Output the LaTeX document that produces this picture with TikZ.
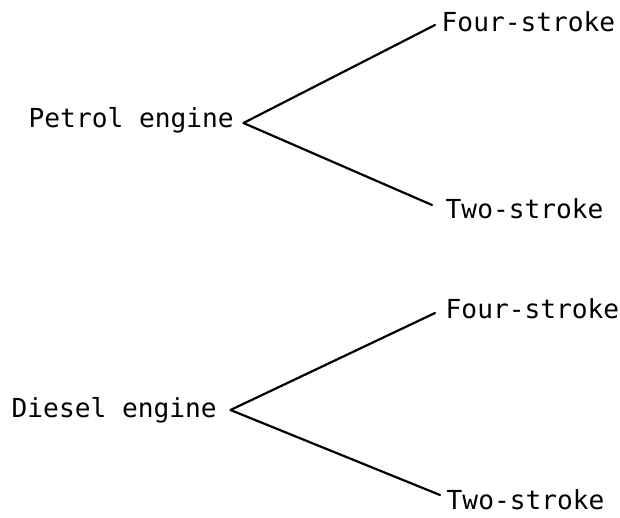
\documentclass[tikz,border=0pt]{standalone}
\usepackage{fontspec}
\setmonofont{DejaVu Sans Mono}
\begin{document}
\begin{tikzpicture}[x=1pt,y=-1pt,
  label/.style={font=\ttfamily\fontsize{26.2}{30}\selectfont, inner sep=0pt,
    text height=19.5pt, text depth=6.5pt, anchor=base west},
  branch/.style={draw=black, line width=2.2pt, line cap=round, line join=round}]
  \useasboundingbox[fill=white] (0,0) rectangle (620,518);

  % Petrol engine and its two variants
  \node[label] (petrol) at (28.5,128) {Petrol engine};
  \node[label] (pfour)  at (441.5,32) {Four-stroke};
  \node[label] (ptwo)   at (445.5,219) {Two-stroke};
  \draw[branch] ([xshift=-6.5pt,yshift=0.5pt]pfour.west)
     -- ([xshift=9.5pt,yshift=-1.5pt]petrol.east)
     -- ([xshift=-13.5pt,yshift=7.5pt]ptwo.west);

  % Diesel engine and its two variants
  \node[label] (diesel) at (11.5,417) {Diesel engine};
  \node[label] (dfour)  at (445.5,318) {Four-stroke};
  \node[label] (dtwo)   at (446.5,509) {Two-stroke};
  \draw[branch] ([xshift=-10.5pt,yshift=-1.5pt]dfour.west)
     -- ([xshift=13.5pt,yshift=0.5pt]diesel.east)
     -- ([xshift=-6.5pt,yshift=7.5pt]dtwo.west);
\end{tikzpicture}
\end{document}
